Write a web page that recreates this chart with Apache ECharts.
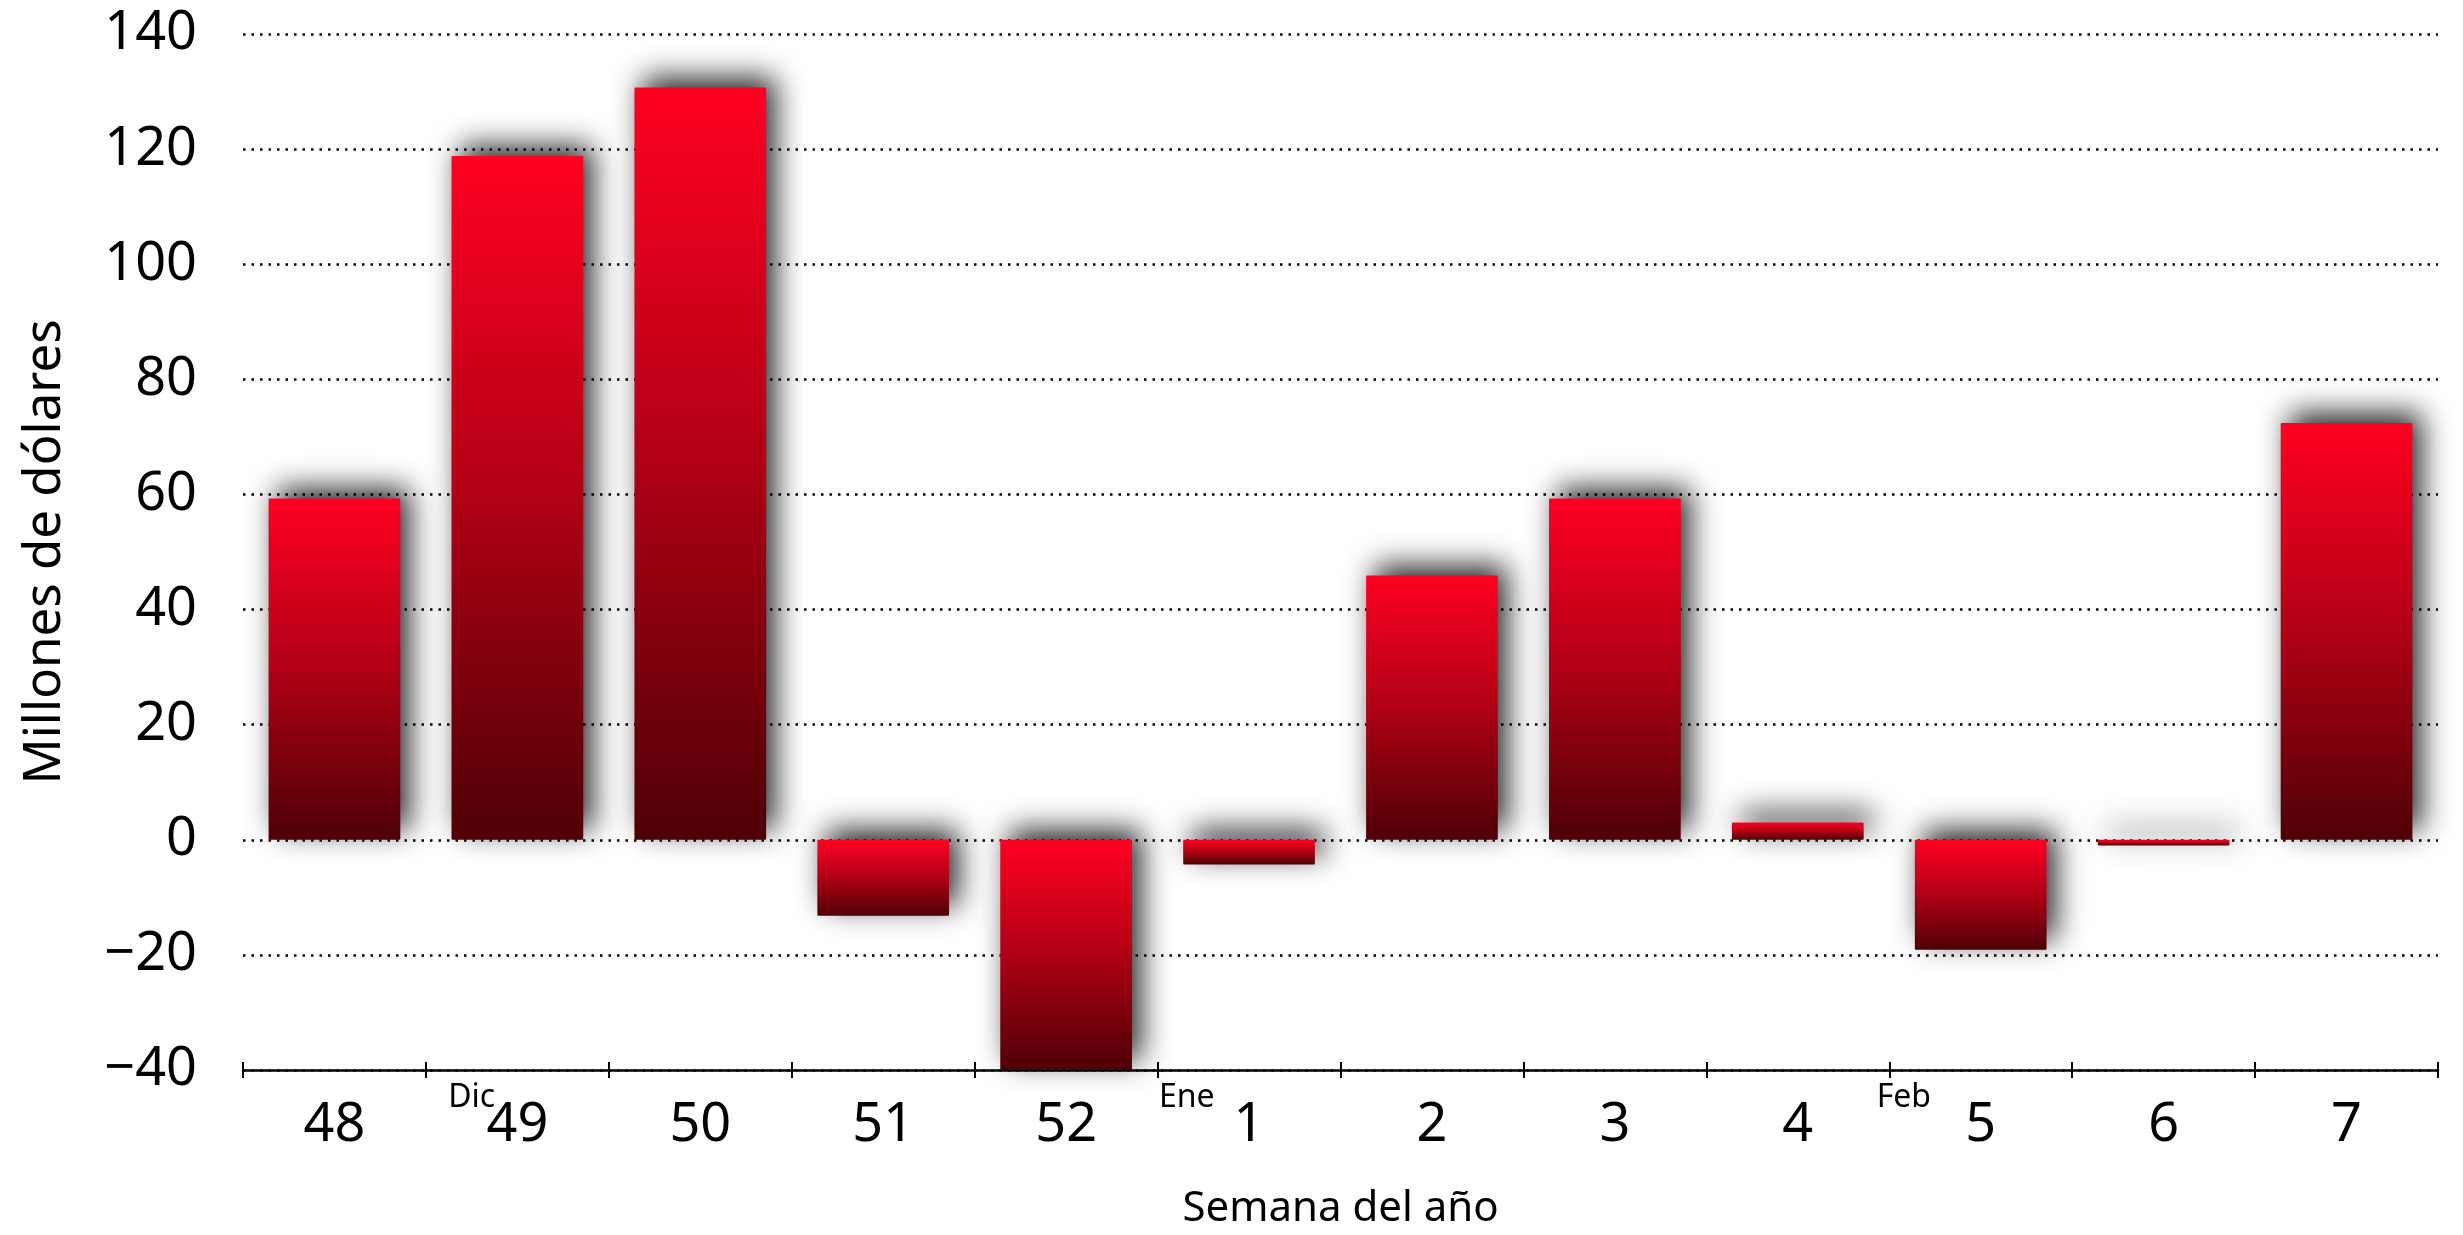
<!DOCTYPE html>
<html>
<head>
<meta charset="utf-8">
<script src="https://cdn.jsdelivr.net/npm/echarts@6/dist/echarts.min.js"></script>
<style>
  html, body { margin: 0; padding: 0; background: #fff; overflow: hidden; }
  #chart { width: 2463px; height: 1235px; overflow: hidden; }
  #chart canvas { display: block; }
</style>
</head>
<body>
<div id="chart"></div>
<script>
// ---- data ----
const weeks = ['48', '49', '50', '51', '52', '1', '2', '3', '4', '5', '6', '7'];
const values = [59.3, 118.8, 130.7, -13.2, -40, -4.3, 45.9, 59.3, 3, -19.1, -1, 72.4];
const yTicks = { min: -40, max: 140, interval: 20 };
const monthLabels = ['Dic', 'Ene', 'Feb'];
const monthPos = [1.25, 5.16, 9.08]; // fractional category position (category i spans [i, i+1])
const yTitle = 'Millones de dólares';
const xTitle = 'Semana del año';

const FONT = 'Noto Sans';
const chart = echarts.init(document.getElementById('chart'), null, { renderer: 'canvas', width: 2463, height: 1235 });

const barGradient = new echarts.graphic.LinearGradient(0, 0, 0, 1, [
  { offset: 0, color: '#ff0022' },
  { offset: 0.5, color: '#b00014' },
  { offset: 1, color: '#4e0006' }
]);

chart.setOption({
  animation: false,
  backgroundColor: '#ffffff',
  grid: { left: 243, right: 25, top: 34, bottom: 160, containLabel: false },
  xAxis: [{
    type: 'category',
    data: weeks,
    position: 'bottom',
    axisLine: { onZero: false, lineStyle: { color: '#000', width: 2.5 } },
    axisTick: { show: true, length: 8, lineStyle: { color: '#000', width: 2 } },
    axisLabel: { color: '#000', fontFamily: FONT, fontSize: 54, margin: 29 },
    name: xTitle,
    nameLocation: 'middle',
    nameGap: 118,
    nameTextStyle: { color: '#000', fontFamily: FONT, fontSize: 42 },
    splitLine: { show: false }
  }, {
    type: 'category',
    data: weeks,
    position: 'bottom',
    axisLine: { show: false, onZero: false },
    axisTick: { show: true, inside: true, length: 8, lineStyle: { color: '#000', width: 2 } },
    axisLabel: { show: false },
    splitLine: { show: false }
  }],
  yAxis: {
    type: 'value',
    min: yTicks.min,
    max: yTicks.max,
    interval: yTicks.interval,
    axisLine: { show: false },
    axisTick: { show: false },
    axisLabel: {
      color: '#000', fontFamily: FONT, fontSize: 54, margin: 46,
      formatter: v => String(v).replace('-', '\u2212')
    },
    splitLine: { show: true, lineStyle: { color: '#000', width: 2.5, type: [2.5, 6] } },
    name: yTitle,
    nameLocation: 'middle',
    nameGap: 172,
    nameRotate: 90,
    nameTextStyle: { color: '#000', fontFamily: FONT, fontSize: 51 }
  },
  series: [{
    type: 'bar',
    data: values,
    barCategoryGap: '28%',
    clip: true,
    itemStyle: {
      color: barGradient,
      borderRadius: 1,
      shadowColor: 'rgba(0,0,0,0.85)',
      shadowBlur: 30,
      shadowOffsetX: 9,
      shadowOffsetY: -10
    },
    emphasis: { disabled: true }
  }]
});

// month markers placed through the category axis scale
function placeMonths() {
  const p0 = chart.convertToPixel({ xAxisIndex: 0 }, weeks[0]);
  const p1 = chart.convertToPixel({ xAxisIndex: 0 }, weeks[1]);
  const step = p1 - p0;
  const yBase = chart.convertToPixel({ yAxisIndex: 0 }, yTicks.min);
  const elements = monthLabels.map((m, i) => ({
    type: 'text',
    x: p0 + (monthPos[i] - 0.5) * step,
    y: yBase + 28,
    style: {
      text: m,
      fill: '#000',
      font: '32px "' + FONT + '"',
      textAlign: 'center',
      textVerticalAlign: 'middle'
    },
    silent: true
  }));
  chart.setOption({ graphic: elements });
}
placeMonths();
</script>
</body>
</html>
